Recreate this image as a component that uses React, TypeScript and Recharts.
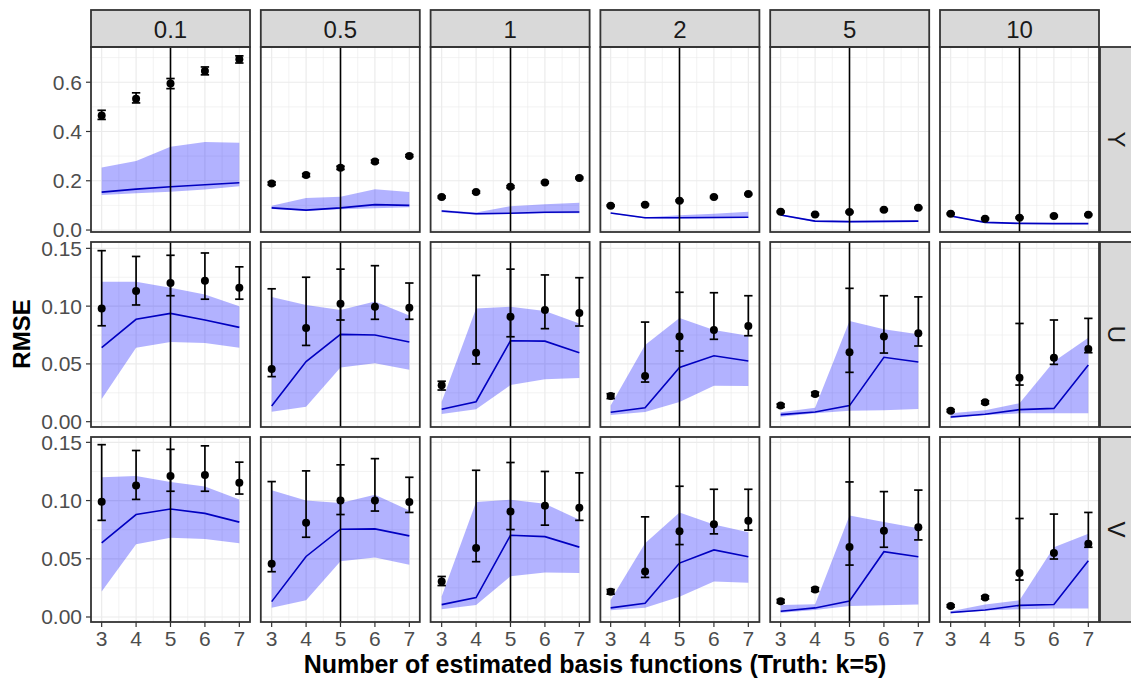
import React from "react";
import {
  Area,
  CartesianGrid,
  ComposedChart,
  ErrorBar,
  Line,
  ReferenceLine,
  Scatter,
  XAxis,
  YAxis,
} from "recharts";

// facets
const K_VALUES = [3, 4, 5, 6, 7];
const LAMBDA_LABELS = ["0.1", "0.5", "1", "2", "5", "10"];
const VARIABLES = ["Y", "U", "V"];

// ---- Y ----
const yPointMean = [
  [0.465, 0.533, 0.595, 0.646, 0.693],
  [0.189, 0.223, 0.253, 0.278, 0.301],
  [0.134, 0.154, 0.176, 0.193, 0.211],
  [0.099, 0.103, 0.119, 0.134, 0.146],
  [0.074, 0.063, 0.073, 0.082, 0.09],
  [0.066, 0.046, 0.05, 0.057, 0.062],
];
const yPointLow = [
  [0.449, 0.516, 0.574, 0.63, 0.678],
  [0.183, 0.217, 0.246, 0.273, 0.297],
  [0.13, 0.15, 0.171, 0.19, 0.208],
  [0.096, 0.1, 0.116, 0.131, 0.143],
  [0.071, 0.06, 0.07, 0.079, 0.087],
  [0.063, 0.043, 0.047, 0.054, 0.059],
];
const yPointHigh = [
  [0.486, 0.557, 0.615, 0.662, 0.707],
  [0.195, 0.229, 0.259, 0.284, 0.306],
  [0.138, 0.158, 0.18, 0.197, 0.215],
  [0.102, 0.106, 0.122, 0.137, 0.149],
  [0.077, 0.066, 0.076, 0.085, 0.093],
  [0.069, 0.049, 0.053, 0.06, 0.065],
];
const yLineMean = [
  [0.154, 0.166, 0.176, 0.184, 0.192],
  [0.09, 0.081, 0.09, 0.103, 0.1],
  [0.077, 0.066, 0.068, 0.072, 0.073],
  [0.069, 0.05, 0.05, 0.051, 0.052],
  [0.061, 0.036, 0.034, 0.035, 0.036],
  [0.057, 0.031, 0.027, 0.026, 0.026],
];
const yBandLow = [
  [0.142, 0.149, 0.155, 0.165, 0.178],
  [0.085, 0.078, 0.084, 0.088, 0.092],
  [0.072, 0.062, 0.065, 0.068, 0.068],
  [0.066, 0.047, 0.047, 0.048, 0.049],
  [0.058, 0.033, 0.031, 0.032, 0.033],
  [0.055, 0.029, 0.025, 0.024, 0.024],
];
const yBandHigh = [
  [0.254, 0.28, 0.338, 0.357, 0.354],
  [0.099, 0.13, 0.135, 0.166, 0.154],
  [0.081, 0.071, 0.097, 0.105, 0.111],
  [0.07, 0.052, 0.06, 0.066, 0.074],
  [0.063, 0.039, 0.037, 0.038, 0.039],
  [0.059, 0.033, 0.029, 0.028, 0.028],
];

// ---- U ----
const uPointMean = [
  [0.098, 0.113, 0.12, 0.122, 0.116],
  [0.0456, 0.081, 0.102, 0.0995, 0.0986],
  [0.0315, 0.0597, 0.0908, 0.0966, 0.094],
  [0.0222, 0.0395, 0.0738, 0.0793, 0.0828],
  [0.0139, 0.024, 0.06, 0.0738, 0.0765],
  [0.0095, 0.0168, 0.038, 0.0554, 0.0629],
];
const uPointLow = [
  [0.083, 0.101, 0.109, 0.106, 0.106],
  [0.039, 0.066, 0.088, 0.0886, 0.0886],
  [0.0274, 0.05, 0.0735, 0.0805, 0.0828],
  [0.02, 0.0343, 0.0612, 0.0713, 0.0744],
  [0.0125, 0.0225, 0.0427, 0.0594, 0.0655],
  [0.0085, 0.0155, 0.0317, 0.0496, 0.0597],
];
const uPointHigh = [
  [0.148, 0.143, 0.144, 0.146, 0.134],
  [0.115, 0.125, 0.132, 0.135, 0.12],
  [0.035, 0.1266, 0.132, 0.127, 0.1246],
  [0.0242, 0.0862, 0.112, 0.1116, 0.109],
  [0.0153, 0.0255, 0.1154, 0.109, 0.108],
  [0.0105, 0.018, 0.085, 0.088, 0.0894],
];
const uLineMean = [
  [0.064, 0.0886, 0.0937, 0.088, 0.0816],
  [0.0136, 0.052, 0.0756, 0.075, 0.069],
  [0.0107, 0.0173, 0.07, 0.0697, 0.0597],
  [0.0081, 0.0121, 0.047, 0.0571, 0.0525],
  [0.0061, 0.0084, 0.0139, 0.0557, 0.0516],
  [0.004, 0.0064, 0.0104, 0.0115, 0.049],
];
const uBandLow = [
  [0.0196, 0.064, 0.069, 0.068, 0.064],
  [0.0087, 0.013, 0.047, 0.0505, 0.045],
  [0.0067, 0.0107, 0.0317, 0.0367, 0.0378],
  [0.0058, 0.0084, 0.017, 0.031, 0.0308],
  [0.0043, 0.0072, 0.0095, 0.01, 0.011],
  [0.0029, 0.0058, 0.0072, 0.0072, 0.0072],
];
const uBandHigh = [
  [0.121, 0.121, 0.116, 0.11, 0.1],
  [0.108, 0.101, 0.0966, 0.104, 0.092],
  [0.0173, 0.098, 0.0995, 0.0958, 0.085],
  [0.014, 0.0663, 0.0897, 0.0793, 0.0744],
  [0.0081, 0.0121, 0.0871, 0.08, 0.0756],
  [0.0072, 0.01, 0.0159, 0.052, 0.0727],
];

// ---- V ----
const vPointMean = [
  [0.099, 0.113, 0.121, 0.122, 0.1154],
  [0.0458, 0.081, 0.1, 0.1, 0.0987],
  [0.0305, 0.0593, 0.0907, 0.0956, 0.0939],
  [0.0216, 0.039, 0.0737, 0.0797, 0.0826],
  [0.0135, 0.0236, 0.0602, 0.074, 0.0771],
  [0.0095, 0.0167, 0.0377, 0.055, 0.063],
];
const vPointLow = [
  [0.083, 0.101, 0.108, 0.108, 0.1056],
  [0.0389, 0.0685, 0.088, 0.091, 0.0898],
  [0.027, 0.0475, 0.0751, 0.0789, 0.083],
  [0.0196, 0.034, 0.0622, 0.0714, 0.0746],
  [0.012, 0.022, 0.0446, 0.0599, 0.0662],
  [0.0085, 0.0155, 0.0317, 0.0498, 0.0599],
];
const vPointHigh = [
  [0.148, 0.143, 0.144, 0.147, 0.133],
  [0.1163, 0.1255, 0.1307, 0.136, 0.12],
  [0.0348, 0.126, 0.1327, 0.125, 0.1238],
  [0.0236, 0.086, 0.1123, 0.1097, 0.1097],
  [0.015, 0.0252, 0.116, 0.1077, 0.109],
  [0.0105, 0.018, 0.0846, 0.0884, 0.0898],
];
const vLineMean = [
  [0.0636, 0.088, 0.0927, 0.089, 0.0815],
  [0.0132, 0.052, 0.0754, 0.0757, 0.0697],
  [0.0106, 0.0167, 0.0702, 0.069, 0.06],
  [0.0078, 0.0118, 0.0463, 0.0576, 0.0518],
  [0.0049, 0.0078, 0.0138, 0.0561, 0.0518],
  [0.0038, 0.006, 0.01, 0.0107, 0.0484],
];
const vBandLow = [
  [0.0219, 0.0625, 0.068, 0.067, 0.0633],
  [0.008, 0.0144, 0.0478, 0.0512, 0.0449],
  [0.0066, 0.0104, 0.035, 0.0383, 0.0377],
  [0.0058, 0.008, 0.0173, 0.0305, 0.0294],
  [0.0037, 0.006, 0.0095, 0.01, 0.0107],
  [0.0029, 0.0055, 0.0066, 0.0072, 0.0072],
];
const vBandHigh = [
  [0.12, 0.121, 0.116, 0.112, 0.101],
  [0.1088, 0.1, 0.098, 0.105, 0.0915],
  [0.0175, 0.0987, 0.1007, 0.0973, 0.0835],
  [0.0147, 0.0633, 0.0898, 0.0794, 0.0728],
  [0.0104, 0.011, 0.0872, 0.0815, 0.0763],
  [0.005, 0.0107, 0.0144, 0.0598, 0.0714],
];

// axis ticks
const X_MINOR = [3.5, 4.5, 5.5, 6.5];
const Y_TICKS = [
  [0, 0.2, 0.4, 0.6],
  [0, 0.05, 0.1, 0.15],
  [0, 0.05, 0.1, 0.15],
];
const Y_MINOR = [
  [0.1, 0.3, 0.5, 0.7],
  [0.025, 0.075, 0.125],
  [0.025, 0.075, 0.125],
];
const Y_DOMAINS: [number, number][] = [
  [-0.008, 0.743],
  [-0.0046, 0.1555],
  [-0.0043, 0.1546],
];
const X_DOMAIN: [number, number] = [2.69, 7.31];

const SERIES: Record<string, any> = {
  Y: { pm: yPointMean, pl: yPointLow, ph: yPointHigh, lm: yLineMean, bl: yBandLow, bh: yBandHigh },
  U: { pm: uPointMean, pl: uPointLow, ph: uPointHigh, lm: uLineMean, bl: uBandLow, bh: uBandHigh },
  V: { pm: vPointMean, pl: vPointLow, ph: vPointHigh, lm: vLineMean, bl: vBandLow, bh: vBandHigh },
};

// layout
const FONT = '"Liberation Sans", Arial, Helvetica, sans-serif';
const PANEL_X0 = 91;
const COL_STEP = 169.8;
const PANEL_W = 159;
const PANEL_Y0 = 47;
const ROW_STEP = 195;
const PANEL_H = 185;
const STRIP_Y = 10;
const STRIP_H = 37;
const RIGHT_STRIP_W = 32;
const Y_AXIS_W = 60;
const X_AXIS_H = 40;
const PAD = 14; // room so edge tick labels are not clipped

const buildRows = (v: string, c: number) => {
  const s = SERIES[v];
  return K_VALUES.map((k, i) => ({
    k,
    point: s.pm[c][i],
    err: [s.pm[c][i] - s.pl[c][i], s.ph[c][i] - s.pm[c][i]],
    mean: s.lm[c][i],
    band: [s.bl[c][i], s.bh[c][i]],
  }));
};

const Dot = (props: any) => <circle cx={props.cx} cy={props.cy} r={4} fill="#000" />;

const Panel = ({ row, col }: { row: number; col: number }) => {
  const data = buildRows(VARIABLES[row], col);
  const showY = col === 0;
  const showX = row === 2;
  const width = PANEL_W + (showY ? Y_AXIS_W : 0);
  const bottomPad = showX ? 0 : PAD;
  const height = PAD + PANEL_H + bottomPad + (showX ? X_AXIS_H : 0);
  const left = PANEL_X0 + col * COL_STEP - (showY ? Y_AXIS_W : 0);
  const top = PANEL_Y0 + row * ROW_STEP - PAD;
  const digits = row === 0 ? 1 : 2;
  const tickStyle = { fill: "#4D4D4D", fontSize: 21, fontFamily: FONT };

  return (
    <div style={{ position: "absolute", left, top }}>
      <ComposedChart
        width={width}
        height={height}
        data={data}
        margin={{ top: PAD, right: 0, bottom: bottomPad, left: 0 }}
      >
        <XAxis
          type="number"
          dataKey="k"
          domain={X_DOMAIN}
          allowDataOverflow
          ticks={K_VALUES}
          interval={0}
          hide={!showX}
          height={X_AXIS_H}
          axisLine={false}
          tickLine={{ stroke: "#333333", strokeWidth: 1.2 }}
          tickSize={5}
          tickMargin={4}
          tick={tickStyle}
        />
        <YAxis
          type="number"
          domain={Y_DOMAINS[row]}
          allowDataOverflow
          ticks={Y_TICKS[row]}
          interval={0}
          hide={!showY}
          width={Y_AXIS_W}
          axisLine={false}
          tickLine={{ stroke: "#333333", strokeWidth: 1.2 }}
          tickSize={5}
          tickMargin={4}
          tick={tickStyle}
          tickFormatter={(v: number) => v.toFixed(digits)}
        />
        <CartesianGrid
          stroke="#EBEBEB"
          strokeWidth={0.6}
          horizontalValues={Y_MINOR[row]}
          verticalValues={X_MINOR}
        />
        <CartesianGrid
          stroke="#EBEBEB"
          strokeWidth={1.2}
          horizontalValues={Y_TICKS[row]}
          verticalValues={K_VALUES}
        />
        <Area
          type="linear"
          dataKey="band"
          stroke="none"
          fill="#0000FF"
          fillOpacity={0.3}
          isAnimationActive={false}
          activeDot={false}
        />
        <Line
          type="linear"
          dataKey="mean"
          stroke="#0000C0"
          strokeWidth={1.6}
          dot={false}
          activeDot={false}
          isAnimationActive={false}
        />
        <ReferenceLine x={5} stroke="#000" strokeWidth={1.6} />
        <Scatter data={data} dataKey="point" shape={Dot} isAnimationActive={false}>
          <ErrorBar dataKey="err" direction="y" width={4.2} stroke="#000" strokeWidth={1.7} />
        </Scatter>
      </ComposedChart>
    </div>
  );
};

const Overlay = () => {
  const panels: React.ReactNode[] = [];
  VARIABLES.forEach((_, r) =>
    LAMBDA_LABELS.forEach((__, c) =>
      panels.push(
        <rect
          key={`b-${r}-${c}`}
          x={PANEL_X0 + c * COL_STEP}
          y={PANEL_Y0 + r * ROW_STEP}
          width={PANEL_W}
          height={PANEL_H}
          fill="none"
          stroke="#333333"
          strokeWidth={1.8}
        />
      )
    )
  );
  const rightX = PANEL_X0 + 5 * COL_STEP + PANEL_W;
  return (
    <svg
      width={1131}
      height={679}
      style={{ position: "absolute", left: 0, top: 0, pointerEvents: "none" }}
      fontFamily={FONT}
    >
      {LAMBDA_LABELS.map((lab, c) => (
        <g key={`s-${lab}`}>
          <rect
            x={PANEL_X0 + c * COL_STEP}
            y={STRIP_Y}
            width={PANEL_W}
            height={STRIP_H}
            fill="#D9D9D9"
            stroke="#333333"
            strokeWidth={1.8}
          />
          <text
            x={PANEL_X0 + c * COL_STEP + PANEL_W / 2}
            y={STRIP_Y + STRIP_H / 2 + 1}
            textAnchor="middle"
            dominantBaseline="central"
            fontSize={24}
            fill="#1A1A1A"
          >
            {lab}
          </text>
        </g>
      ))}
      {VARIABLES.map((v, r) => {
        const cy = PANEL_Y0 + r * ROW_STEP + PANEL_H / 2;
        const cx = rightX + RIGHT_STRIP_W / 2 + 1;
        return (
          <g key={`r-${v}`}>
            <rect
              x={rightX + 1}
              y={PANEL_Y0 + r * ROW_STEP}
              width={RIGHT_STRIP_W + 4}
              height={PANEL_H}
              fill="#D9D9D9"
              stroke="#333333"
              strokeWidth={1.8}
            />
            <text
              x={cx}
              y={cy}
              textAnchor="middle"
              dominantBaseline="central"
              fontSize={24}
              fill="#1A1A1A"
              transform={`rotate(90 ${cx} ${cy})`}
            >
              {v}
            </text>
          </g>
        );
      })}
      {panels}
      <text
        x={21}
        y={334}
        textAnchor="middle"
        dominantBaseline="central"
        fontSize={24}
        fontWeight="bold"
        fill="#000"
        transform="rotate(-90 21 334)"
      >
        RMSE
      </text>
      <text
        x={595}
        y={664}
        textAnchor="middle"
        dominantBaseline="central"
        fontSize={25}
        fontWeight="bold"
        fill="#000"
      >
        Number of estimated basis functions (Truth: k=5)
      </text>
    </svg>
  );
};

export default function App() {
  return (
    <div style={{ position: "absolute", left: 0, top: 0, width: 1131, height: 679, background: "#fff", fontFamily: FONT }}>
      {VARIABLES.map((v, r) => LAMBDA_LABELS.map((l, c) => <Panel key={`${v}-${l}`} row={r} col={c} />))}
      <Overlay />
    </div>
  );
}
